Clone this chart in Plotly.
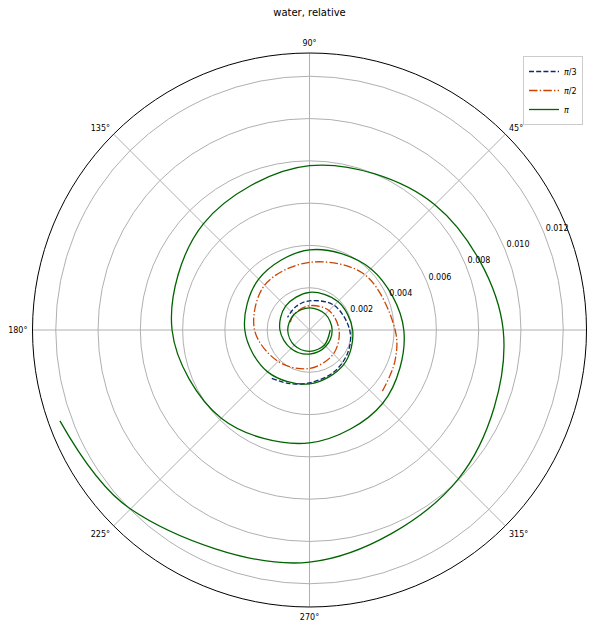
import plotly.graph_objects as go

# ---- data (theta in degrees, counter-clockwise; r values) ----
theta_pi = [200, 225, 270, 315, 360, 405, 450, 495, 540, 585, 630, 675, 720, 765, 810, 855,
            900, 945, 990, 1035, 1080, 1125, 1170, 1215, 1260, 1305, 1350, 1395, 1440, 1485,
            1530, 1575, 1620, 1665, 1710, 1755, 1800]
r_pi = [0.01256, 0.01197, 0.01098, 0.00996, 0.00916, 0.00838, 0.00777, 0.0071, 0.0065, 0.0059,
        0.00534, 0.0049, 0.00446, 0.0041, 0.00379, 0.0034, 0.00306, 0.0028, 0.00255, 0.0023,
        0.00204, 0.0019, 0.00178, 0.0016, 0.0014, 0.00124, 0.00114, 0.00109, 0.00107, 0.00106,
        0.00105, 0.00104, 0.00103, 0.00102, 0.00101, 0.001, 0.00098]

theta_pi3 = [232, 250, 270, 300, 330, 360, 405, 450, 480, 510]
r_pi3 = [0.0029, 0.0027, 0.0025, 0.0023, 0.0021, 0.0019, 0.00165, 0.00138, 0.00128, 0.0012]

theta_pi2 = [320, 340, 360, 405, 450, 495, 540, 585, 630, 675, 720, 765, 810, 855, 880]
r_pi2 = [0.0045, 0.0043, 0.00405, 0.0037, 0.0032, 0.003, 0.0026, 0.0021, 0.00182, 0.0016,
         0.0014, 0.0013, 0.00115, 0.00104, 0.00098]

radial_ticks = [0.002, 0.004, 0.006, 0.008, 0.010, 0.012]
radial_ticktext = ["0.002", "0.004", "0.006", "0.008", "0.010", "0.012"]
angle_ticks = [0, 45, 90, 135, 180, 225, 270, 315]
angle_ticktext = ["0°", "45°", "90°", "135°", "180°", "225°", "270°", "315°"]
r_max = 0.0131

FONT = "DejaVu Sans"

fig = go.Figure()
fig.add_trace(go.Scatterpolar(
    r=r_pi3, theta=theta_pi3, mode="lines", name="<i>π</i>/3",
    line=dict(color="#0b2a6b", width=1.3, dash="5px,2.2px", shape="spline")))
fig.add_trace(go.Scatterpolar(
    r=r_pi2, theta=theta_pi2, mode="lines", name="<i>π</i>/2",
    line=dict(color="#cc4400", width=1.3, dash="8.5px,2.2px,1.4px,2.2px", shape="spline")))
fig.add_trace(go.Scatterpolar(
    r=r_pi, theta=theta_pi, mode="lines", name="<i>π</i>",
    line=dict(color="#006400", width=1.3, shape="spline")))

# raise radial tick labels a little (matplotlib puts them just above the ring crossing)
radial_labels = ['<span style="baseline-shift:10px">%s</span>' % t for t in radial_ticktext]

# page offset (body margin) compensation
OFF = 8
W, H = 597 - OFF, 626 - OFF
cx, cy, R = 309.5 - OFF, 330 - OFF, 277
fig.update_layout(
    width=W, height=H,
    margin=dict(l=0, r=0, t=0, b=0),
    paper_bgcolor="white",
    font=dict(family=FONT, size=8, color="black"),
    title=dict(text="water, relative", x=(309.5 - OFF) / W, xanchor="center",
               y=1 - (12.5 - OFF) / H, yanchor="middle",
               font=dict(family=FONT, size=10, color="black")),
    polar=dict(
        domain=dict(x=[(cx - R) / W, (cx + R) / W],
                    y=[(H - cy - R) / H, (H - cy + R) / H]),
        bgcolor="white",
        radialaxis=dict(range=[0, r_max], tickvals=radial_ticks, ticktext=radial_labels,
                        angle=22.5, tickangle=22.5, side="clockwise", showline=False,
                        ticks="", gridcolor="#b0b0b0", gridwidth=0.8,
                        tickfont=dict(family=FONT, size=8, color="black")),
        angularaxis=dict(tickvals=angle_ticks, ticktext=angle_ticktext, direction="counterclockwise",
                         rotation=0, showline=True, linecolor="black", linewidth=1,
                         ticks="outside", ticklen=3, tickcolor="rgba(0,0,0,0)",
                         gridcolor="#b0b0b0", gridwidth=0.8,
                         tickfont=dict(family=FONT, size=8, color="black")),
    ),
    legend=dict(x=(583 - OFF) / W, y=1 - (56 - OFF) / H, xanchor="right", yanchor="top",
                bordercolor="#cccccc", borderwidth=1, bgcolor="white",
                font=dict(family=FONT, size=8, color="black"),
                itemwidth=30, tracegroupgap=0),
    showlegend=True,
)

fig.write_html("out.html")
